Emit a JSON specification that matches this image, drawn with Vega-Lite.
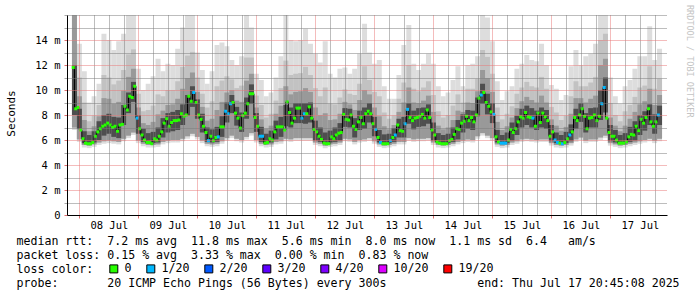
{
"$schema":"https://vega.github.io/schema/vega-lite/v6.json",
"width":600,"height":200,
"autosize":{"type":"none"},
"padding":{"left":67,"top":15,"right":30,"bottom":82},
"background":"white",
"config":{"view":{"stroke":null},"font":"DejaVu Sans Mono"},
"title":{"text":"RRDTOOL / TOBI OETIKER","orient":"right","anchor":"start","angle":90,"frame":"group","fontSize":8.5,"font":"DejaVu Sans Mono","fontWeight":"normal","color":"#c4c4c4","offset":2,"baseline":"middle","dx":-10},
"resolve":{"axis":{"x":"independent","y":"independent"}},
"datasets":{
"smoke":[
{"t":"2025-07-07T22:00","lo":6.8,"lo2":7.0,"c":8.0,"h1":16,"h2":16,"h3":16,"h4":12},
{"t":"2025-07-08T00:00","lo":5.85,"lo2":6.05,"c":6.9,"h1":13.7,"h2":11.0,"h3":9.5,"h4":8.5},
{"t":"2025-07-08T02:00","lo":5.4,"lo2":5.6,"c":5.75,"h1":11.5,"h2":9.0,"h3":7.6,"h4":6.7},
{"t":"2025-07-08T04:00","lo":5.35,"lo2":5.55,"c":5.7,"h1":9.0,"h2":7.5,"h3":6.7,"h4":6.4},
{"t":"2025-07-08T06:00","lo":5.45,"lo2":5.65,"c":5.8,"h1":9.5,"h2":7.95,"h3":7.1,"h4":6.7},
{"t":"2025-07-08T08:00","lo":5.6,"lo2":5.8,"c":6.0,"h1":10.5,"h2":8.8,"h3":7.9,"h4":7.5},
{"t":"2025-07-08T10:00","lo":5.7,"lo2":5.9,"c":6.35,"h1":14.5,"h2":11.2,"h3":9.35,"h4":8.0},
{"t":"2025-07-08T12:00","lo":5.75,"lo2":5.95,"c":6.5,"h1":14,"h2":11.0,"h3":9.3,"h4":8.1},
{"t":"2025-07-08T14:00","lo":5.7,"lo2":5.9,"c":6.25,"h1":13.2,"h2":10.45,"h3":8.9,"h4":7.85},
{"t":"2025-07-08T16:00","lo":5.65,"lo2":5.85,"c":6.15,"h1":13.9,"h2":10.75,"h3":9.05,"h4":7.8},
{"t":"2025-07-08T18:00","lo":5.9,"lo2":6.1,"c":7.2,"h1":14.5,"h2":11.6,"h3":9.95,"h4":8.8},
{"t":"2025-07-08T20:00","lo":6.15,"lo2":6.35,"c":8.15,"h1":16,"h2":12.85,"h3":11.05,"h4":9.8},
{"t":"2025-07-08T22:00","lo":6.4,"lo2":6.6,"c":9.05,"h1":16,"h2":13.25,"h3":11.7,"h4":10.65},
{"t":"2025-07-09T00:00","lo":5.75,"lo2":5.95,"c":6.5,"h1":11.7,"h2":9.7,"h3":8.6,"h4":8.0},
{"t":"2025-07-09T02:00","lo":5.5,"lo2":5.7,"c":5.85,"h1":10,"h2":8.3,"h3":7.35,"h4":6.9},
{"t":"2025-07-09T04:00","lo":5.4,"lo2":5.6,"c":5.75,"h1":10.5,"h2":8.4,"h3":7.2,"h4":6.55},
{"t":"2025-07-09T06:00","lo":5.4,"lo2":5.6,"c":5.75,"h1":11.1,"h2":8.75,"h3":7.45,"h4":6.65},
{"t":"2025-07-09T08:00","lo":5.45,"lo2":5.65,"c":5.8,"h1":12.5,"h2":9.65,"h3":8.05,"h4":7.0},
{"t":"2025-07-09T10:00","lo":5.65,"lo2":5.85,"c":6.2,"h1":11.5,"h2":9.5,"h3":8.35,"h4":7.75},
{"t":"2025-07-09T12:00","lo":5.75,"lo2":5.95,"c":6.6,"h1":12.1,"h2":10.0,"h3":8.8,"h4":8.15},
{"t":"2025-07-09T14:00","lo":5.8,"lo2":6.0,"c":6.7,"h1":12,"h2":10.0,"h3":8.85,"h4":8.25},
{"t":"2025-07-09T16:00","lo":5.8,"lo2":6.0,"c":6.8,"h1":13.3,"h2":10.7,"h3":9.3,"h4":8.4},
{"t":"2025-07-09T18:00","lo":5.9,"lo2":6.1,"c":7.2,"h1":15,"h2":11.85,"h3":10.1,"h4":8.85},
{"t":"2025-07-09T20:00","lo":6.1,"lo2":6.3,"c":7.95,"h1":16,"h2":12.75,"h3":10.95,"h4":9.6},
{"t":"2025-07-09T22:00","lo":6.3,"lo2":6.5,"c":8.65,"h1":16,"h2":13.05,"h3":11.4,"h4":10.3},
{"t":"2025-07-10T00:00","lo":6.05,"lo2":6.25,"c":7.7,"h1":13,"h2":11.0,"h3":9.85,"h4":9.25},
{"t":"2025-07-10T02:00","lo":5.75,"lo2":5.95,"c":6.6,"h1":11.6,"h2":9.7,"h3":8.65,"h4":8.1},
{"t":"2025-07-10T04:00","lo":5.5,"lo2":5.7,"c":5.85,"h1":10.5,"h2":8.6,"h3":7.55,"h4":7.0},
{"t":"2025-07-10T06:00","lo":5.45,"lo2":5.65,"c":5.8,"h1":11.5,"h2":9.1,"h3":7.7,"h4":6.85},
{"t":"2025-07-10T08:00","lo":5.5,"lo2":5.7,"c":5.85,"h1":13.6,"h2":10.3,"h3":8.4,"h4":7.05},
{"t":"2025-07-10T10:00","lo":5.7,"lo2":5.9,"c":6.25,"h1":13.8,"h2":10.75,"h3":9.05,"h4":7.9},
{"t":"2025-07-10T12:00","lo":5.95,"lo2":6.15,"c":7.4,"h1":13.5,"h2":11.1,"h3":9.8,"h4":9.0},
{"t":"2025-07-10T14:00","lo":6.15,"lo2":6.35,"c":8.15,"h1":12.4,"h2":10.85,"h3":10.0,"h4":9.6},
{"t":"2025-07-10T16:00","lo":5.9,"lo2":6.1,"c":7.15,"h1":12,"h2":10.15,"h3":9.15,"h4":8.65},
{"t":"2025-07-10T18:00","lo":5.8,"lo2":6.0,"c":6.65,"h1":12.7,"h2":10.35,"h3":9.05,"h4":8.2},
{"t":"2025-07-10T20:00","lo":6.05,"lo2":6.25,"c":7.7,"h1":16,"h2":12.6,"h3":10.75,"h4":9.4},
{"t":"2025-07-10T22:00","lo":6.35,"lo2":6.55,"c":8.9,"h1":15,"h2":12.6,"h3":11.3,"h4":10.45},
{"t":"2025-07-11T00:00","lo":5.8,"lo2":6.0,"c":6.65,"h1":11.3,"h2":9.55,"h3":8.6,"h4":8.15},
{"t":"2025-07-11T02:00","lo":5.5,"lo2":5.7,"c":5.85,"h1":10.8,"h2":8.8,"h3":7.65,"h4":7.05},
{"t":"2025-07-11T04:00","lo":5.4,"lo2":5.6,"c":5.75,"h1":9.5,"h2":7.8,"h3":6.9,"h4":6.5},
{"t":"2025-07-11T06:00","lo":5.45,"lo2":5.65,"c":5.8,"h1":9.8,"h2":8.1,"h3":7.15,"h4":6.75},
{"t":"2025-07-11T08:00","lo":5.65,"lo2":5.85,"c":6.05,"h1":11,"h2":9.15,"h3":8.1,"h4":7.55},
{"t":"2025-07-11T10:00","lo":5.7,"lo2":5.9,"c":6.25,"h1":12.7,"h2":10.15,"h3":8.75,"h4":7.85},
{"t":"2025-07-11T12:00","lo":5.9,"lo2":6.1,"c":7.1,"h1":16,"h2":12.35,"h3":10.3,"h4":8.8},
{"t":"2025-07-11T14:00","lo":5.85,"lo2":6.05,"c":7.0,"h1":14,"h2":11.2,"h3":9.65,"h4":8.6},
{"t":"2025-07-11T16:00","lo":5.95,"lo2":6.15,"c":7.35,"h1":13.9,"h2":11.3,"h3":9.85,"h4":8.95},
{"t":"2025-07-11T18:00","lo":5.95,"lo2":6.15,"c":7.35,"h1":14,"h2":11.35,"h3":9.9,"h4":8.95},
{"t":"2025-07-11T20:00","lo":5.95,"lo2":6.15,"c":7.3,"h1":14.9,"h2":11.85,"h3":10.15,"h4":8.95},
{"t":"2025-07-11T22:00","lo":5.95,"lo2":6.15,"c":7.4,"h1":13.7,"h2":11.2,"h3":9.85,"h4":9.0},
{"t":"2025-07-12T00:00","lo":5.6,"lo2":5.8,"c":5.95,"h1":12.9,"h2":10.15,"h3":8.6,"h4":7.55},
{"t":"2025-07-12T02:00","lo":5.5,"lo2":5.7,"c":5.85,"h1":12.2,"h2":9.5,"h3":8.0,"h4":7.0},
{"t":"2025-07-12T04:00","lo":5.35,"lo2":5.55,"c":5.7,"h1":13.9,"h2":10.2,"h3":8.15,"h4":6.6},
{"t":"2025-07-12T06:00","lo":5.45,"lo2":5.65,"c":5.8,"h1":11.3,"h2":8.9,"h3":7.6,"h4":6.75},
{"t":"2025-07-12T08:00","lo":5.5,"lo2":5.7,"c":5.85,"h1":11,"h2":8.85,"h3":7.65,"h4":7.0},
{"t":"2025-07-12T10:00","lo":5.6,"lo2":5.8,"c":5.95,"h1":11.7,"h2":9.4,"h3":8.1,"h4":7.35},
{"t":"2025-07-12T12:00","lo":5.9,"lo2":6.1,"c":7.05,"h1":11.8,"h2":10.05,"h3":9.05,"h4":8.55},
{"t":"2025-07-12T14:00","lo":5.85,"lo2":6.05,"c":7.0,"h1":11.3,"h2":9.7,"h3":8.85,"h4":8.5},
{"t":"2025-07-12T16:00","lo":5.65,"lo2":5.85,"c":6.2,"h1":11.7,"h2":9.6,"h3":8.4,"h4":7.75},
{"t":"2025-07-12T18:00","lo":5.8,"lo2":6.0,"c":6.8,"h1":12.9,"h2":10.5,"h3":9.2,"h4":8.35},
{"t":"2025-07-12T20:00","lo":5.85,"lo2":6.05,"c":6.9,"h1":15.3,"h2":11.9,"h3":10.0,"h4":8.6},
{"t":"2025-07-12T22:00","lo":5.95,"lo2":6.15,"c":7.4,"h1":13,"h2":10.8,"h3":9.65,"h4":8.95},
{"t":"2025-07-13T00:00","lo":5.7,"lo2":5.9,"c":6.3,"h1":12.1,"h2":9.85,"h3":8.6,"h4":7.85},
{"t":"2025-07-13T02:00","lo":5.45,"lo2":5.65,"c":5.8,"h1":12.4,"h2":9.5,"h3":7.9,"h4":6.8},
{"t":"2025-07-13T04:00","lo":5.35,"lo2":5.55,"c":5.7,"h1":10.3,"h2":8.2,"h3":7.1,"h4":6.45},
{"t":"2025-07-13T06:00","lo":5.4,"lo2":5.6,"c":5.75,"h1":9.3,"h2":7.7,"h3":6.85,"h4":6.5},
{"t":"2025-07-13T08:00","lo":5.5,"lo2":5.7,"c":5.85,"h1":9.3,"h2":7.95,"h3":7.2,"h4":6.95},
{"t":"2025-07-13T10:00","lo":5.65,"lo2":5.85,"c":6.2,"h1":11.2,"h2":9.3,"h3":8.25,"h4":7.7},
{"t":"2025-07-13T12:00","lo":5.65,"lo2":5.85,"c":6.2,"h1":13.6,"h2":10.6,"h3":9.0,"h4":7.85},
{"t":"2025-07-13T14:00","lo":5.95,"lo2":6.15,"c":7.3,"h1":15.2,"h2":12.0,"h3":10.2,"h4":8.95},
{"t":"2025-07-13T16:00","lo":5.85,"lo2":6.05,"c":6.85,"h1":12.1,"h2":10.1,"h3":9.0,"h4":8.35},
{"t":"2025-07-13T18:00","lo":5.9,"lo2":6.1,"c":7.05,"h1":11.6,"h2":9.9,"h3":8.95,"h4":8.55},
{"t":"2025-07-13T20:00","lo":5.9,"lo2":6.1,"c":7.1,"h1":12.1,"h2":10.2,"h3":9.15,"h4":8.6},
{"t":"2025-07-13T22:00","lo":5.95,"lo2":6.15,"c":7.3,"h1":12.9,"h2":10.7,"h3":9.55,"h4":8.85},
{"t":"2025-07-14T00:00","lo":5.6,"lo2":5.8,"c":5.95,"h1":12.1,"h2":9.6,"h3":8.25,"h4":7.4},
{"t":"2025-07-14T02:00","lo":5.4,"lo2":5.6,"c":5.75,"h1":10.3,"h2":8.3,"h3":7.15,"h4":6.55},
{"t":"2025-07-14T04:00","lo":5.35,"lo2":5.55,"c":5.7,"h1":9.5,"h2":7.8,"h3":6.85,"h4":6.4},
{"t":"2025-07-14T06:00","lo":5.4,"lo2":5.6,"c":5.75,"h1":9.8,"h2":8.0,"h3":7.0,"h4":6.5},
{"t":"2025-07-14T08:00","lo":5.5,"lo2":5.7,"c":5.85,"h1":10.8,"h2":8.75,"h3":7.6,"h4":7.0},
{"t":"2025-07-14T10:00","lo":5.65,"lo2":5.85,"c":6.05,"h1":11.9,"h2":9.65,"h3":8.35,"h4":7.6},
{"t":"2025-07-14T12:00","lo":5.75,"lo2":5.95,"c":6.6,"h1":10.3,"h2":9.0,"h3":8.25,"h4":8.05},
{"t":"2025-07-14T14:00","lo":5.85,"lo2":6.05,"c":6.9,"h1":12,"h2":10.1,"h3":9.0,"h4":8.4},
{"t":"2025-07-14T16:00","lo":5.8,"lo2":6.0,"c":6.8,"h1":12.1,"h2":10.1,"h3":8.95,"h4":8.35},
{"t":"2025-07-14T18:00","lo":6.1,"lo2":6.3,"c":7.9,"h1":12.7,"h2":10.9,"h3":9.9,"h4":9.4},
{"t":"2025-07-14T20:00","lo":6.35,"lo2":6.55,"c":8.9,"h1":16,"h2":13.2,"h3":11.6,"h4":10.5},
{"t":"2025-07-14T22:00","lo":6.15,"lo2":6.35,"c":8.05,"h1":15.8,"h2":12.65,"h3":10.95,"h4":9.7},
{"t":"2025-07-15T00:00","lo":5.95,"lo2":6.15,"c":7.35,"h1":13.9,"h2":11.3,"h3":9.85,"h4":8.95},
{"t":"2025-07-15T02:00","lo":5.45,"lo2":5.65,"c":5.8,"h1":10.7,"h2":8.6,"h3":7.45,"h4":6.8},
{"t":"2025-07-15T04:00","lo":5.35,"lo2":5.55,"c":5.7,"h1":9.2,"h2":7.65,"h3":6.8,"h4":6.4},
{"t":"2025-07-15T06:00","lo":5.4,"lo2":5.6,"c":5.75,"h1":9.9,"h2":8.1,"h3":7.1,"h4":6.6},
{"t":"2025-07-15T08:00","lo":5.6,"lo2":5.8,"c":5.95,"h1":10.3,"h2":8.7,"h3":7.8,"h4":7.4},
{"t":"2025-07-15T10:00","lo":5.7,"lo2":5.9,"c":6.4,"h1":11.7,"h2":9.7,"h3":8.55,"h4":7.95},
{"t":"2025-07-15T12:00","lo":5.85,"lo2":6.05,"c":7.0,"h1":12.1,"h2":10.2,"h3":9.1,"h4":8.5},
{"t":"2025-07-15T14:00","lo":5.9,"lo2":6.1,"c":7.2,"h1":12.8,"h2":10.65,"h3":9.45,"h4":8.75},
{"t":"2025-07-15T16:00","lo":5.85,"lo2":6.05,"c":7.0,"h1":12.4,"h2":10.3,"h3":9.2,"h4":8.55},
{"t":"2025-07-15T18:00","lo":5.8,"lo2":6.0,"c":6.8,"h1":12.3,"h2":10.2,"h3":9.0,"h4":8.35},
{"t":"2025-07-15T20:00","lo":5.85,"lo2":6.05,"c":7.0,"h1":13.7,"h2":11.05,"h3":9.55,"h4":8.6},
{"t":"2025-07-15T22:00","lo":5.85,"lo2":6.05,"c":6.9,"h1":12,"h2":10.1,"h3":9.0,"h4":8.4},
{"t":"2025-07-16T00:00","lo":5.55,"lo2":5.75,"c":5.9,"h1":10.4,"h2":8.65,"h3":7.65,"h4":7.2},
{"t":"2025-07-16T02:00","lo":5.4,"lo2":5.6,"c":5.75,"h1":10.1,"h2":8.2,"h3":7.15,"h4":6.6},
{"t":"2025-07-16T04:00","lo":5.35,"lo2":5.55,"c":5.7,"h1":9.2,"h2":7.6,"h3":6.75,"h4":6.4},
{"t":"2025-07-16T06:00","lo":5.4,"lo2":5.6,"c":5.75,"h1":9.6,"h2":7.95,"h3":7.05,"h4":6.65},
{"t":"2025-07-16T08:00","lo":5.55,"lo2":5.75,"c":5.9,"h1":11.9,"h2":9.5,"h3":8.1,"h4":7.25},
{"t":"2025-07-16T10:00","lo":5.85,"lo2":6.05,"c":6.9,"h1":13.2,"h2":10.7,"h3":9.35,"h4":8.5},
{"t":"2025-07-16T12:00","lo":6.0,"lo2":6.2,"c":7.45,"h1":12,"h2":10.3,"h3":9.35,"h4":8.95},
{"t":"2025-07-16T14:00","lo":5.75,"lo2":5.95,"c":6.6,"h1":12.7,"h2":10.3,"h3":9.0,"h4":8.15},
{"t":"2025-07-16T16:00","lo":5.85,"lo2":6.05,"c":7.0,"h1":12.9,"h2":10.6,"h3":9.3,"h4":8.55},
{"t":"2025-07-16T18:00","lo":5.85,"lo2":6.05,"c":7.0,"h1":13.7,"h2":11.05,"h3":9.55,"h4":8.6},
{"t":"2025-07-16T20:00","lo":6.0,"lo2":6.2,"c":7.6,"h1":16,"h2":14,"h3":12,"h4":10},
{"t":"2025-07-16T22:00","lo":6.15,"lo2":6.35,"c":8.2,"h1":16,"h2":14.5,"h3":12.5,"h4":11},
{"t":"2025-07-17T00:00","lo":5.55,"lo2":5.75,"c":5.9,"h1":11,"h2":8.95,"h3":7.8,"h4":7.2},
{"t":"2025-07-17T02:00","lo":5.45,"lo2":5.65,"c":5.8,"h1":9.5,"h2":8.0,"h3":7.15,"h4":6.8},
{"t":"2025-07-17T04:00","lo":5.35,"lo2":5.55,"c":5.7,"h1":8.9,"h2":7.5,"h3":6.7,"h4":6.4},
{"t":"2025-07-17T06:00","lo":5.4,"lo2":5.6,"c":5.75,"h1":10.3,"h2":8.3,"h3":7.15,"h4":6.55},
{"t":"2025-07-17T08:00","lo":5.5,"lo2":5.7,"c":5.85,"h1":10.8,"h2":8.8,"h3":7.7,"h4":7.05},
{"t":"2025-07-17T10:00","lo":5.6,"lo2":5.8,"c":5.95,"h1":11.7,"h2":9.45,"h3":8.25,"h4":7.5},
{"t":"2025-07-17T12:00","lo":5.7,"lo2":5.9,"c":6.4,"h1":12.7,"h2":10.2,"h3":8.85,"h4":8.0},
{"t":"2025-07-17T14:00","lo":5.8,"lo2":6.0,"c":6.75,"h1":12.7,"h2":10.35,"h3":9.1,"h4":8.3},
{"t":"2025-07-17T16:00","lo":5.9,"lo2":6.1,"c":7.2,"h1":15.1,"h2":11.9,"h3":10.1,"h4":8.85},
{"t":"2025-07-17T18:00","lo":5.75,"lo2":5.95,"c":6.5,"h1":12.4,"h2":10.1,"h3":8.8,"h4":8.05},
{"t":"2025-07-17T20:00","lo":5.9,"lo2":6.1,"c":7.2,"h1":13.3,"h2":10.9,"h3":9.6,"h4":8.75}
],
"med":[
{"t":"2025-07-07T21:30","m":11.8,"l":"0"},
{"t":"2025-07-07T22:30","m":8.5,"l":"0"},
{"t":"2025-07-07T23:30","m":8.6,"l":"0"},
{"t":"2025-07-08T00:30","m":6.8,"l":"0"},
{"t":"2025-07-08T01:30","m":6.1,"l":"0"},
{"t":"2025-07-08T02:30","m":5.75,"l":"0"},
{"t":"2025-07-08T03:30","m":5.7,"l":"0"},
{"t":"2025-07-08T04:30","m":5.7,"l":"0"},
{"t":"2025-07-08T05:30","m":5.8,"l":"0"},
{"t":"2025-07-08T06:30","m":6.3,"l":"0"},
{"t":"2025-07-08T07:30","m":6.65,"l":"0"},
{"t":"2025-07-08T08:30","m":6.9,"l":"0"},
{"t":"2025-07-08T09:30","m":7.1,"l":"0"},
{"t":"2025-07-08T10:30","m":7.2,"l":"0"},
{"t":"2025-07-08T11:30","m":7.35,"l":"0"},
{"t":"2025-07-08T12:30","m":7.2,"l":"0"},
{"t":"2025-07-08T13:30","m":7.0,"l":"0"},
{"t":"2025-07-08T14:30","m":7.1,"l":"0"},
{"t":"2025-07-08T15:30","m":6.7,"l":"0"},
{"t":"2025-07-08T16:30","m":7.2,"l":"0"},
{"t":"2025-07-08T17:30","m":7.25,"l":"0"},
{"t":"2025-07-08T18:30","m":8.7,"l":"0"},
{"t":"2025-07-08T19:30","m":8.4,"l":"0"},
{"t":"2025-07-08T20:30","m":9.5,"l":"0"},
{"t":"2025-07-08T21:30","m":9.4,"l":"0"},
{"t":"2025-07-08T22:30","m":10.3,"l":"0"},
{"t":"2025-07-08T23:30","m":7.75,"l":"1/20"},
{"t":"2025-07-09T00:30","m":6.9,"l":"0"},
{"t":"2025-07-09T01:30","m":6.4,"l":"0"},
{"t":"2025-07-09T02:30","m":6.0,"l":"0"},
{"t":"2025-07-09T03:30","m":5.8,"l":"0"},
{"t":"2025-07-09T04:30","m":5.8,"l":"0"},
{"t":"2025-07-09T05:30","m":5.7,"l":"0"},
{"t":"2025-07-09T06:30","m":6.1,"l":"0"},
{"t":"2025-07-09T07:30","m":6.0,"l":"0"},
{"t":"2025-07-09T08:30","m":6.3,"l":"0"},
{"t":"2025-07-09T09:30","m":6.65,"l":"0"},
{"t":"2025-07-09T10:30","m":7.35,"l":"0"},
{"t":"2025-07-09T11:30","m":7.7,"l":"0"},
{"t":"2025-07-09T12:30","m":7.1,"l":"0"},
{"t":"2025-07-09T13:30","m":7.4,"l":"0"},
{"t":"2025-07-09T14:30","m":7.55,"l":"0"},
{"t":"2025-07-09T15:30","m":7.55,"l":"0"},
{"t":"2025-07-09T16:30","m":7.6,"l":"0"},
{"t":"2025-07-09T17:30","m":8.1,"l":"0"},
{"t":"2025-07-09T18:30","m":7.9,"l":"0"},
{"t":"2025-07-09T19:30","m":8.0,"l":"0"},
{"t":"2025-07-09T20:30","m":9.5,"l":"0"},
{"t":"2025-07-09T21:30","m":9.1,"l":"0"},
{"t":"2025-07-09T22:30","m":9.8,"l":"1/20"},
{"t":"2025-07-09T23:30","m":9.0,"l":"0"},
{"t":"2025-07-10T00:30","m":8.0,"l":"0"},
{"t":"2025-07-10T01:30","m":7.65,"l":"0"},
{"t":"2025-07-10T02:30","m":7.1,"l":"0"},
{"t":"2025-07-10T03:30","m":6.6,"l":"0"},
{"t":"2025-07-10T04:30","m":5.95,"l":"1/20"},
{"t":"2025-07-10T05:30","m":6.3,"l":"0"},
{"t":"2025-07-10T06:30","m":5.95,"l":"0"},
{"t":"2025-07-10T07:30","m":6.2,"l":"0"},
{"t":"2025-07-10T08:30","m":6.25,"l":"1/20"},
{"t":"2025-07-10T09:30","m":7.05,"l":"0"},
{"t":"2025-07-10T10:30","m":7.05,"l":"0"},
{"t":"2025-07-10T11:30","m":8.3,"l":"1/20"},
{"t":"2025-07-10T12:30","m":8.1,"l":"1/20"},
{"t":"2025-07-10T13:30","m":8.9,"l":"1/20"},
{"t":"2025-07-10T14:30","m":9.0,"l":"0"},
{"t":"2025-07-10T15:30","m":8.15,"l":"0"},
{"t":"2025-07-10T16:30","m":7.75,"l":"0"},
{"t":"2025-07-10T17:30","m":6.95,"l":"0"},
{"t":"2025-07-10T18:30","m":7.95,"l":"0"},
{"t":"2025-07-10T19:30","m":8.15,"l":"0"},
{"t":"2025-07-10T20:30","m":8.9,"l":"0"},
{"t":"2025-07-10T21:30","m":9.7,"l":"0"},
{"t":"2025-07-10T22:30","m":9.7,"l":"0"},
{"t":"2025-07-10T23:30","m":7.8,"l":"0"},
{"t":"2025-07-11T00:30","m":7.1,"l":"0"},
{"t":"2025-07-11T01:30","m":6.3,"l":"1/20"},
{"t":"2025-07-11T02:30","m":6.3,"l":"1/20"},
{"t":"2025-07-11T03:30","m":5.75,"l":"0"},
{"t":"2025-07-11T04:30","m":5.8,"l":"0"},
{"t":"2025-07-11T05:30","m":6.1,"l":"0"},
{"t":"2025-07-11T06:30","m":6.0,"l":"0"},
{"t":"2025-07-11T07:30","m":6.65,"l":"0"},
{"t":"2025-07-11T08:30","m":7.05,"l":"0"},
{"t":"2025-07-11T09:30","m":7.05,"l":"0"},
{"t":"2025-07-11T10:30","m":7.05,"l":"0"},
{"t":"2025-07-11T11:30","m":6.8,"l":"0"},
{"t":"2025-07-11T12:30","m":9.05,"l":"0"},
{"t":"2025-07-11T13:30","m":8.2,"l":"0"},
{"t":"2025-07-11T14:30","m":7.35,"l":"0"},
{"t":"2025-07-11T15:30","m":7.75,"l":"0"},
{"t":"2025-07-11T16:30","m":8.55,"l":"0"},
{"t":"2025-07-11T17:30","m":8.55,"l":"0"},
{"t":"2025-07-11T18:30","m":7.75,"l":"1/20"},
{"t":"2025-07-11T19:30","m":8.1,"l":"1/20"},
{"t":"2025-07-11T20:30","m":8.1,"l":"0"},
{"t":"2025-07-11T21:30","m":8.65,"l":"0"},
{"t":"2025-07-11T22:30","m":7.75,"l":"0"},
{"t":"2025-07-11T23:30","m":6.85,"l":"0"},
{"t":"2025-07-12T00:30","m":6.65,"l":"0"},
{"t":"2025-07-12T01:30","m":6.3,"l":"0"},
{"t":"2025-07-12T02:30","m":6.05,"l":"0"},
{"t":"2025-07-12T03:30","m":5.75,"l":"0"},
{"t":"2025-07-12T04:30","m":5.7,"l":"0"},
{"t":"2025-07-12T05:30","m":5.7,"l":"0"},
{"t":"2025-07-12T06:30","m":6.25,"l":"0"},
{"t":"2025-07-12T07:30","m":6.1,"l":"0"},
{"t":"2025-07-12T08:30","m":6.4,"l":"0"},
{"t":"2025-07-12T09:30","m":6.55,"l":"0"},
{"t":"2025-07-12T10:30","m":6.6,"l":"0"},
{"t":"2025-07-12T11:30","m":8.05,"l":"0"},
{"t":"2025-07-12T12:30","m":7.65,"l":"0"},
{"t":"2025-07-12T13:30","m":7.6,"l":"0"},
{"t":"2025-07-12T14:30","m":8.0,"l":"0"},
{"t":"2025-07-12T15:30","m":7.1,"l":"0"},
{"t":"2025-07-12T16:30","m":6.85,"l":"0"},
{"t":"2025-07-12T17:30","m":7.45,"l":"0"},
{"t":"2025-07-12T18:30","m":7.8,"l":"0"},
{"t":"2025-07-12T19:30","m":7.3,"l":"0"},
{"t":"2025-07-12T20:30","m":8.1,"l":"0"},
{"t":"2025-07-12T21:30","m":8.3,"l":"0"},
{"t":"2025-07-12T22:30","m":8.1,"l":"0"},
{"t":"2025-07-12T23:30","m":7.3,"l":"0"},
{"t":"2025-07-13T00:30","m":6.85,"l":"1/20"},
{"t":"2025-07-13T01:30","m":6.2,"l":"0"},
{"t":"2025-07-13T02:30","m":5.8,"l":"1/20"},
{"t":"2025-07-13T03:30","m":5.7,"l":"0"},
{"t":"2025-07-13T04:30","m":5.7,"l":"0"},
{"t":"2025-07-13T05:30","m":5.7,"l":"0"},
{"t":"2025-07-13T06:30","m":5.95,"l":"1/20"},
{"t":"2025-07-13T07:30","m":6.2,"l":"0"},
{"t":"2025-07-13T08:30","m":6.4,"l":"1/20"},
{"t":"2025-07-13T09:30","m":7.2,"l":"0"},
{"t":"2025-07-13T10:30","m":6.75,"l":"0"},
{"t":"2025-07-13T11:30","m":6.7,"l":"0"},
{"t":"2025-07-13T12:30","m":7.3,"l":"1/20"},
{"t":"2025-07-13T13:30","m":8.45,"l":"1/20"},
{"t":"2025-07-13T14:30","m":7.8,"l":"0"},
{"t":"2025-07-13T15:30","m":7.55,"l":"0"},
{"t":"2025-07-13T16:30","m":7.75,"l":"0"},
{"t":"2025-07-13T17:30","m":7.8,"l":"0"},
{"t":"2025-07-13T18:30","m":7.9,"l":"0"},
{"t":"2025-07-13T19:30","m":8.05,"l":"0"},
{"t":"2025-07-13T20:30","m":7.75,"l":"0"},
{"t":"2025-07-13T21:30","m":8.4,"l":"0"},
{"t":"2025-07-13T22:30","m":7.8,"l":"0"},
{"t":"2025-07-13T23:30","m":6.8,"l":"0"},
{"t":"2025-07-14T00:30","m":6.4,"l":"0"},
{"t":"2025-07-14T01:30","m":5.85,"l":"0"},
{"t":"2025-07-14T02:30","m":5.75,"l":"0"},
{"t":"2025-07-14T03:30","m":5.7,"l":"0"},
{"t":"2025-07-14T04:30","m":5.7,"l":"0"},
{"t":"2025-07-14T05:30","m":5.7,"l":"0"},
{"t":"2025-07-14T06:30","m":5.95,"l":"0"},
{"t":"2025-07-14T07:30","m":6.05,"l":"0"},
{"t":"2025-07-14T08:30","m":6.45,"l":"0"},
{"t":"2025-07-14T09:30","m":6.9,"l":"0"},
{"t":"2025-07-14T10:30","m":6.85,"l":"0"},
{"t":"2025-07-14T11:30","m":7.35,"l":"0"},
{"t":"2025-07-14T12:30","m":7.5,"l":"0"},
{"t":"2025-07-14T13:30","m":7.9,"l":"0"},
{"t":"2025-07-14T14:30","m":7.55,"l":"0"},
{"t":"2025-07-14T15:30","m":7.8,"l":"0"},
{"t":"2025-07-14T16:30","m":7.45,"l":"0"},
{"t":"2025-07-14T17:30","m":8.0,"l":"0"},
{"t":"2025-07-14T18:30","m":9.35,"l":"0"},
{"t":"2025-07-14T19:30","m":9.6,"l":"1/20"},
{"t":"2025-07-14T20:30","m":9.8,"l":"0"},
{"t":"2025-07-14T21:30","m":9.0,"l":"0"},
{"t":"2025-07-14T22:30","m":8.7,"l":"0"},
{"t":"2025-07-14T23:30","m":8.25,"l":"0"},
{"t":"2025-07-15T00:30","m":8.05,"l":"1/20"},
{"t":"2025-07-15T01:30","m":6.25,"l":"0"},
{"t":"2025-07-15T02:30","m":5.85,"l":"0"},
{"t":"2025-07-15T03:30","m":5.75,"l":"1/20"},
{"t":"2025-07-15T04:30","m":5.75,"l":"1/20"},
{"t":"2025-07-15T05:30","m":5.75,"l":"1/20"},
{"t":"2025-07-15T06:30","m":6.0,"l":"0"},
{"t":"2025-07-15T07:30","m":6.85,"l":"0"},
{"t":"2025-07-15T08:30","m":6.6,"l":"0"},
{"t":"2025-07-15T09:30","m":6.9,"l":"0"},
{"t":"2025-07-15T10:30","m":7.45,"l":"0"},
{"t":"2025-07-15T11:30","m":7.85,"l":"0"},
{"t":"2025-07-15T12:30","m":7.75,"l":"0"},
{"t":"2025-07-15T13:30","m":8.2,"l":"0"},
{"t":"2025-07-15T14:30","m":7.85,"l":"0"},
{"t":"2025-07-15T15:30","m":7.8,"l":"0"},
{"t":"2025-07-15T16:30","m":7.75,"l":"1/20"},
{"t":"2025-07-15T17:30","m":7.1,"l":"0"},
{"t":"2025-07-15T18:30","m":8.15,"l":"0"},
{"t":"2025-07-15T19:30","m":7.4,"l":"0"},
{"t":"2025-07-15T20:30","m":8.15,"l":"0"},
{"t":"2025-07-15T21:30","m":7.85,"l":"0"},
{"t":"2025-07-15T22:30","m":7.55,"l":"0"},
{"t":"2025-07-15T23:30","m":6.3,"l":"0"},
{"t":"2025-07-16T00:30","m":6.65,"l":"0"},
{"t":"2025-07-16T01:30","m":6.0,"l":"1/20"},
{"t":"2025-07-16T02:30","m":5.8,"l":"1/20"},
{"t":"2025-07-16T03:30","m":5.75,"l":"0"},
{"t":"2025-07-16T04:30","m":5.7,"l":"1/20"},
{"t":"2025-07-16T05:30","m":5.8,"l":"0"},
{"t":"2025-07-16T06:30","m":6.1,"l":"0"},
{"t":"2025-07-16T07:30","m":6.4,"l":"1/20"},
{"t":"2025-07-16T08:30","m":6.65,"l":"0"},
{"t":"2025-07-16T09:30","m":7.8,"l":"0"},
{"t":"2025-07-16T10:30","m":7.55,"l":"0"},
{"t":"2025-07-16T11:30","m":8.0,"l":"0"},
{"t":"2025-07-16T12:30","m":8.5,"l":"0"},
{"t":"2025-07-16T13:30","m":7.9,"l":"0"},
{"t":"2025-07-16T14:30","m":6.9,"l":"0"},
{"t":"2025-07-16T15:30","m":7.75,"l":"0"},
{"t":"2025-07-16T16:30","m":7.8,"l":"0"},
{"t":"2025-07-16T17:30","m":8.0,"l":"0"},
{"t":"2025-07-16T18:30","m":7.55,"l":"0"},
{"t":"2025-07-16T19:30","m":7.9,"l":"0"},
{"t":"2025-07-16T20:30","m":8.9,"l":"1/20"},
{"t":"2025-07-16T21:30","m":10.2,"l":"1/20"},
{"t":"2025-07-16T22:30","m":7.75,"l":"0"},
{"t":"2025-07-16T23:30","m":6.6,"l":"0"},
{"t":"2025-07-17T00:30","m":6.3,"l":"0"},
{"t":"2025-07-17T01:30","m":6.3,"l":"0"},
{"t":"2025-07-17T02:30","m":6.0,"l":"0"},
{"t":"2025-07-17T03:30","m":5.75,"l":"0"},
{"t":"2025-07-17T04:30","m":5.75,"l":"0"},
{"t":"2025-07-17T05:30","m":5.75,"l":"0"},
{"t":"2025-07-17T06:30","m":5.85,"l":"0"},
{"t":"2025-07-17T07:30","m":6.25,"l":"0"},
{"t":"2025-07-17T08:30","m":6.45,"l":"0"},
{"t":"2025-07-17T09:30","m":6.4,"l":"0"},
{"t":"2025-07-17T10:30","m":7.1,"l":"0"},
{"t":"2025-07-17T11:30","m":6.75,"l":"0"},
{"t":"2025-07-17T12:30","m":7.65,"l":"0"},
{"t":"2025-07-17T13:30","m":7.35,"l":"0"},
{"t":"2025-07-17T14:30","m":7.8,"l":"0"},
{"t":"2025-07-17T15:30","m":8.5,"l":"0"},
{"t":"2025-07-17T16:30","m":7.45,"l":"0"},
{"t":"2025-07-17T17:30","m":7.1,"l":"0"},
{"t":"2025-07-17T18:30","m":7.45,"l":"0"},
{"t":"2025-07-17T19:30","m":8.0,"l":"1/20"}
]
},
"layer":[
{"data":{"name":"smoke"},"mark":{"type":"bar","width":5,"color":"#dddddd"},
 "encoding":{
  "x":{"field":"t","type":"temporal",
   "scale":{"domain":[{"year":2025,"month":7,"date":7,"hours":21},{"year":2025,"month":7,"date":17,"hours":21}]},
   "axis":{"orient":"bottom","tickCount":40,"zindex":1,
    "grid":true,"gridDash":[1,1],"gridOpacity":1,"gridWidth":1,
    "gridColor":{"condition":{"test":"hours(datum.value) == 0","value":"#e87878"},"value":"#7a7a7a"},
    "domainColor":"#000000","domainWidth":1,
    "ticks":true,"tickSize":3,"tickColor":{"condition":{"test":"hours(datum.value) == 0","value":"#e07070"},"value":"transparent"},
    "labelExpr":"hours(datum.value) == 12 ? timeFormat(datum.value, '%d %b') : ''",
    "labelFont":"DejaVu Sans Mono","labelFontSize":10.5,"labelColor":"#000000","labelPadding":2,"labelOverlap":false,"labelFlush":false,"labelBound":false,
    "title":["median rtt:\u00a0\u00a07.2 ms avg\u00a0\u00a011.8 ms max\u00a0\u00a05.6 ms min\u00a0\u00a08.0 ms now\u00a0\u00a01.1 ms sd\u00a0\u00a06.4\u00a0\u00a0\u00a0am/s","packet loss: 0.15 % avg\u00a0\u00a03.33 % max\u00a0\u00a00.00 % min\u00a0\u00a00.83 % now","loss color:","probe:\u00a0\u00a0\u00a0\u00a0\u00a0\u00a0\u00a020 ICMP Echo Pings (56 Bytes) every 300s\u00a0\u00a0\u00a0\u00a0\u00a0\u00a0\u00a0\u00a0\u00a0\u00a0\u00a0\u00a0\u00a0end: Thu Jul 17 20:45:08 2025"],
    "titleFont":"DejaVu Sans Mono","titleFontSize":11.6,"titleFontWeight":"normal","titleColor":"#000000","titleAlign":"left","titleAnchor":"start","titleBaseline":"top","titleX":-51,"titleY":20,"titleLineHeight":14.3}},
  "y":{"field":"lo","type":"quantitative","scale":{"domain":[0,16],"nice":false,"zero":true},
   "axis":{"orient":"left","values":[0,1,2,3,4,5,6,7,8,9,10,11,12,13,14,15,16],"zindex":1,
    "grid":true,"gridDash":[1,1],"gridOpacity":1,"gridWidth":1,
    "gridColor":{"condition":{"test":"datum.value % 2 == 0 && datum.value < 16","value":"#e87878"},"value":"#7a7a7a"},
    "domainColor":"#000000","domainWidth":1,
    "ticks":true,"tickSize":3,"tickColor":{"condition":{"test":"datum.value % 2 == 0 && datum.value < 16","value":"#e07070"},"value":"#aaaaaa"},
    "labelExpr":"datum.value == 0 ? '0\u00a0\u00a0' : ((datum.value % 2 == 0 && datum.value < 16) ? datum.value + ' m' : '')",
    "labelFont":"DejaVu Sans Mono","labelFontSize":10.5,"labelColor":"#000000","labelPadding":4,"labelOverlap":false,"labelBound":false,
    "title":"Seconds","titleFont":"DejaVu Sans Mono","titleFontSize":11,"titleFontWeight":"normal","titleColor":"#000000","titleX":-56,"titleY":98,"titleAngle":-90,"titleAlign":"center","titleBaseline":"middle"}},
  "y2":{"field":"h1"}}},
{"data":{"name":"smoke"},"mark":{"type":"bar","width":5,"color":"#c2c2c2"},
 "encoding":{"x":{"field":"t","type":"temporal","axis":null},"y":{"field":"lo2","type":"quantitative","axis":null},"y2":{"field":"h2"}}},
{"data":{"name":"smoke"},"mark":{"type":"bar","width":5,"color":"#999999"},
 "encoding":{"x":{"field":"t","type":"temporal","axis":null},"y":{"field":"lo2","type":"quantitative","axis":null},"y2":{"field":"h3"}}},
{"data":{"name":"smoke"},"mark":{"type":"bar","width":5,"color":"#4e4e4e"},
 "encoding":{"x":{"field":"t","type":"temporal","axis":null},"y":{"field":"c","type":"quantitative","axis":null},"y2":{"field":"h4"}}},
{"data":{"name":"med"},"mark":{"type":"line","interpolate":"step","color":"#000000","strokeWidth":1},
 "encoding":{"x":{"field":"t","type":"temporal","axis":null},"y":{"field":"m","type":"quantitative","axis":null}}},
{"data":{"name":"med"},"mark":{"type":"square","size":9,"filled":true,"opacity":1},
 "encoding":{"x":{"field":"t","type":"temporal","axis":null},"y":{"field":"m","type":"quantitative","axis":null},
  "color":{"field":"l","type":"nominal",
   "scale":{"domain":["0","1/20","2/20","3/20","4/20","10/20","19/20"],"range":["#26ff00","#00b8ff","#0059ff","#5e00ff","#7e00ff","#dd00ff","#ff0000"]},
   "legend":{"orient":"none","legendX":41,"legendY":248,"direction":"horizontal","title":null,"padding":0,
    "symbolType":"square","symbolSize":64,"symbolStrokeColor":"#000000","symbolStrokeWidth":1,"symbolOpacity":1,
    "labelFont":"DejaVu Sans Mono","labelFontSize":11.6,"labelColor":"#000000","labelOffset":5,"columnPadding":12}}}}
]
}
